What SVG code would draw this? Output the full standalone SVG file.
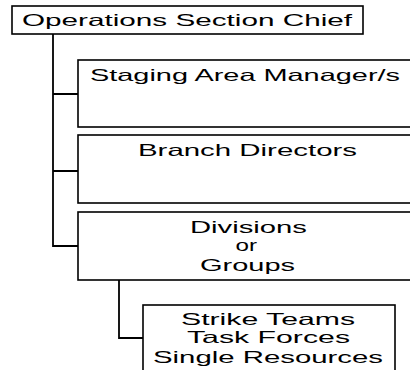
<svg xmlns="http://www.w3.org/2000/svg" width="410" height="370" viewBox="0 0 410 370">
<style>
.box{fill:#fff;stroke:#000;stroke-width:1.6}
.lbl{font-family:"Liberation Sans",Arial,sans-serif;font-size:16.5px;fill:#000}
.con{fill:none;stroke:#000;stroke-width:1.8}
</style>
<rect width="410" height="370" fill="#fff"/>
<g id="connectors">
<path class="con" d="M53,34 V246 H78 M53,94 H78 M53,171 H78"/>
<path class="con" d="M119,280 V338 H143"/>
</g>
<g id="ops">
<rect class="box" x="12" y="6" width="351" height="28"/>
<text class="lbl" x="22" y="26" textLength="330" lengthAdjust="spacingAndGlyphs">Operations Section Chief</text>
</g>
<g id="staging">
<rect class="box" x="78" y="60" width="345" height="67"/>
<text class="lbl" x="90" y="81" textLength="310" lengthAdjust="spacingAndGlyphs">Staging Area Manager/s</text>
</g>
<g id="branch">
<rect class="box" x="78" y="135" width="345" height="68"/>
<text class="lbl" x="138" y="155.5" textLength="219" lengthAdjust="spacingAndGlyphs">Branch Directors</text>
</g>
<g id="divisions">
<rect class="box" x="78" y="212" width="345" height="68"/>
<text class="lbl" x="190" y="232.5" textLength="117" lengthAdjust="spacingAndGlyphs">Divisions</text>
<text class="lbl" x="235.5" y="250.8" textLength="21.5" lengthAdjust="spacingAndGlyphs">or</text>
<text class="lbl" x="200" y="270.5" textLength="95" lengthAdjust="spacingAndGlyphs">Groups</text>
</g>
<g id="strike">
<rect class="box" x="143" y="305" width="252" height="80"/>
<text class="lbl" x="181" y="325" textLength="174" lengthAdjust="spacingAndGlyphs">Strike Teams</text>
<text class="lbl" x="187" y="343.3" textLength="163" lengthAdjust="spacingAndGlyphs">Task Forces</text>
<text class="lbl" x="153" y="363.3" textLength="230" lengthAdjust="spacingAndGlyphs">Single Resources</text>
</g>
</svg>
